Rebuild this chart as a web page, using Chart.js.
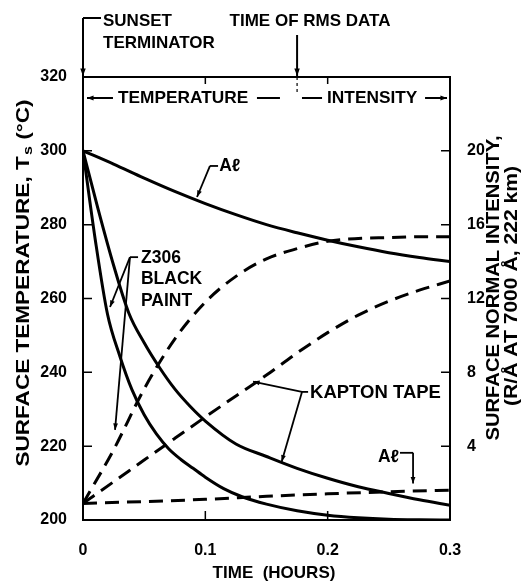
<!DOCTYPE html>
<html>
<head>
<meta charset="utf-8">
<script src="https://cdn.jsdelivr.net/npm/chart.js@4"></script>
<style>
  body { margin: 0; background: #fff; }
  #wrap { width: 525px; height: 585px; }
</style>
</head>
<body>
<div id="wrap"><canvas id="chart" width="525" height="585"></canvas></div>
<script>
// Temperature curves (hours, deg C)
const alTime = [0, 0.025, 0.05, 0.075, 0.1, 0.125, 0.15, 0.175, 0.2, 0.225, 0.25, 0.275, 0.3];
const alTemp = [300, 296.4, 292.6, 289, 285.7, 282.7, 280, 277.8, 275.8, 274, 272.4, 271.1, 270];

const z306Time = [0, 0.01, 0.02, 0.03, 0.04, 0.05, 0.06, 0.07, 0.08, 0.09, 0.1, 0.115, 0.13, 0.15, 0.175, 0.2, 0.225, 0.25, 0.275, 0.3];
const z306Temp = [300, 276, 255.8, 244.5, 235.3, 228.5, 223.3, 219.3, 216.4, 214, 211.6, 208.5, 206.3, 204.3, 202.5, 201.3, 200.6, 200.2, 200.05, 200];

const kaptonTime = [0, 0.0125, 0.025, 0.0375, 0.05, 0.0625, 0.075, 0.0875, 0.1, 0.125, 0.15, 0.175, 0.2, 0.225, 0.25, 0.275, 0.3];
const kaptonTemp = [300, 284, 269, 256, 248, 241.3, 235.5, 230.8, 226.8, 220.6, 217.2, 214, 211.3, 209, 207.2, 205.5, 204];

// Intensity curves (hours, R/A)
const intTime = [0, 0.025, 0.05, 0.075, 0.1, 0.125, 0.15, 0.175, 0.2, 0.225, 0.25, 0.275, 0.3];
const z306Int = [0.9, 3.8, 7.1, 9.8, 11.8, 13.2, 14.15, 14.7, 15.1, 15.25, 15.3, 15.35, 15.35];
const kaptonInt = [0.9, 2.07, 3.25, 4.42, 5.58, 6.72, 7.85, 9.05, 10.15, 11.1, 11.85, 12.45, 12.95];
const alIntTime = [0, 0.05, 0.1, 0.15, 0.2, 0.25, 0.3];
const alInt = [0.9, 1.0, 1.12, 1.28, 1.42, 1.53, 1.62];

// Axis ticks
const xTicks = [0, 0.1, 0.2, 0.3];
const tempTicks = [200, 220, 240, 260, 280, 300, 320];
const intTicks = [4, 8, 12, 16, 20];

const FONT = '"Liberation Sans", Arial, sans-serif';

function pts(xs, ys) { return xs.map((x, i) => ({ x: x, y: ys[i] })); }

function line(label, xs, ys, axis, dashed) {
    return {
        label: label, data: pts(xs, ys), yAxisID: axis,
        borderColor: '#000', borderWidth: 3, pointRadius: 0,
        borderDash: dashed ? [14, 8] : [], fill: false,
        cubicInterpolationMode: 'monotone'
    };
}

function arrow(ctx, x1, y1, x2, y2, size) {
    size = size || 7;
    ctx.beginPath();
    ctx.moveTo(x1, y1);
    ctx.lineTo(x2, y2);
    ctx.stroke();
    const a = Math.atan2(y2 - y1, x2 - x1);
    ctx.beginPath();
    ctx.moveTo(x2, y2);
    ctx.lineTo(x2 - size * Math.cos(a - 0.35), y2 - size * Math.sin(a - 0.35));
    ctx.lineTo(x2 - size * Math.cos(a + 0.35), y2 - size * Math.sin(a + 0.35));
    ctx.closePath();
    ctx.fill();
}

// text centred vertically on y
function label(ctx, text, x, y, size, align) {
    ctx.font = 'bold ' + size + 'px ' + FONT;
    ctx.textAlign = align || 'left';
    ctx.textBaseline = 'middle';
    ctx.fillText(text, x, y);
}

// vertical text, stretched along its length to span len pixels
function vlabel(ctx, text, x, y, size, len) {
    ctx.save();
    ctx.translate(x, y);
    ctx.rotate(-Math.PI / 2);
    ctx.font = 'bold ' + size + 'px ' + FONT;
    ctx.scale(len / ctx.measureText(text).width, 1);
    label(ctx, text, 0, 0, size, 'center');
    ctx.restore();
}

const decor = {
    id: 'decor',
    afterDraw(chart) {
        const ctx = chart.ctx;
        const a = chart.chartArea;
        const sx = chart.scales.x, sy = chart.scales.y, sy1 = chart.scales.y1;
        const px = v => sx.getPixelForValue(v);
        const py = v => sy.getPixelForValue(v);
        ctx.save();
        ctx.strokeStyle = '#000';
        ctx.fillStyle = '#000';

        // frame
        ctx.lineWidth = 2;
        ctx.strokeRect(a.left, a.top, a.right - a.left, a.bottom - a.top);

        // inward ticks
        ctx.lineWidth = 1.5;
        ctx.beginPath();
        tempTicks.slice(1, -1).forEach(v => { ctx.moveTo(a.left, py(v)); ctx.lineTo(a.left + 9, py(v)); });
        intTicks.forEach(v => { const y = sy1.getPixelForValue(v); ctx.moveTo(a.right, y); ctx.lineTo(a.right - 9, y); });
        xTicks.slice(1, -1).forEach(v => {
            ctx.moveTo(px(v), a.bottom); ctx.lineTo(px(v), a.bottom - 9);
            ctx.moveTo(px(v), a.top); ctx.lineTo(px(v), a.top + 7);
        });
        ctx.stroke();

        // x title
        label(ctx, 'TIME  (HOURS)', 274, 573, 17, 'center');

        // left title with subscript, stretched to its length in the original
        ctx.save();
        ctx.translate(24, 283);
        ctx.rotate(-Math.PI / 2);
        ctx.textBaseline = 'middle';
        ctx.textAlign = 'left';
        const p1 = 'SURFACE TEMPERATURE, T', p2 = 's', p3 = ' (\u00B0C)';
        ctx.font = 'bold 17.5px ' + FONT;
        const w1 = ctx.measureText(p1).width, w3 = ctx.measureText(p3).width;
        ctx.font = 'bold 12.5px ' + FONT;
        const w2 = ctx.measureText(p2).width;
        const total = w1 + w2 + w3 + 1;
        ctx.scale(367 / total, 1);
        const x0 = -total / 2;
        ctx.font = 'bold 17.5px ' + FONT;
        ctx.fillText(p1, x0, 0);
        ctx.font = 'bold 12.5px ' + FONT;
        ctx.fillText(p2, x0 + w1 + 1, 5);
        ctx.font = 'bold 17.5px ' + FONT;
        ctx.fillText(p3, x0 + w1 + w2 + 1, 0);
        ctx.restore();

        // right title
        vlabel(ctx, 'SURFACE NORMAL INTENSITY,', 494, 288, 17.5, 305);
        vlabel(ctx, '(R/\u00C5 AT 7000 \u00C5, 222 km)', 512, 286, 17.5, 240);

        // top annotations
        label(ctx, 'SUNSET', 103, 21, 17);
        label(ctx, 'TERMINATOR', 103, 43, 17);
        label(ctx, 'TIME OF RMS DATA', 310, 21, 17, 'center');
        ctx.lineWidth = 2;
        ctx.beginPath();
        ctx.moveTo(101, 18); ctx.lineTo(a.left, 18);
        ctx.stroke();
        arrow(ctx, a.left, 18, a.left, a.top - 1, 8);
        const rms = 0.175;
        arrow(ctx, px(rms), 35, px(rms), a.top - 1, 8);
        ctx.lineWidth = 1.2;
        ctx.setLineDash([3, 3]);
        ctx.beginPath();
        ctx.moveTo(px(rms), a.top); ctx.lineTo(px(rms), a.top + 16);
        ctx.stroke();
        ctx.setLineDash([]);

        // temperature / intensity banner
        const by = a.top + 21;
        ctx.lineWidth = 2;
        label(ctx, 'TEMPERATURE', px(0.0286), by, 17.3);
        arrow(ctx, px(0.0245), by, a.left + 4, by, 7);
        ctx.beginPath();
        ctx.moveTo(px(0.1422), by); ctx.lineTo(px(0.161), by);
        ctx.moveTo(px(0.179), by); ctx.lineTo(px(0.1954), by);
        ctx.stroke();
        label(ctx, 'INTENSITY', px(0.1995), by, 17.3);
        arrow(ctx, px(0.2796), by, a.right - 3, by, 7);

        // curve labels and leaders
        ctx.lineWidth = 1.8;
        // Al (temperature)
        label(ctx, 'A\u2113', px(0.1113), py(295.9), 17.5);
        ctx.beginPath(); ctx.moveTo(px(0.1104), py(295.9)); ctx.lineTo(px(0.1038), py(295.9)); ctx.stroke();
        arrow(ctx, px(0.1038), py(295.9), px(0.0932), py(287.5), 7);
        // Z306 black paint
        label(ctx, 'Z306', px(0.0474), py(270.8), 17.5);
        label(ctx, 'BLACK', px(0.0474), py(265.3), 17.5);
        label(ctx, 'PAINT', px(0.0474), py(259.3), 17.5);
        ctx.beginPath(); ctx.moveTo(px(0.045), py(271.2)); ctx.lineTo(px(0.0384), py(271.2)); ctx.stroke();
        arrow(ctx, px(0.0384), py(271.2), px(0.0221), py(257.7), 7);
        arrow(ctx, px(0.0384), py(271.2), px(0.0262), py(224.4), 7);
        // Kapton tape
        label(ctx, 'KAPTON TAPE', px(0.1856), py(234.4), 18.5);
        ctx.beginPath(); ctx.moveTo(px(0.184), py(234.7)); ctx.lineTo(px(0.179), py(234.7)); ctx.stroke();
        arrow(ctx, px(0.179), py(234.7), px(0.139), py(237.5), 7);
        arrow(ctx, px(0.179), py(234.7), px(0.1624), py(215.8), 7);
        // Al (intensity)
        label(ctx, 'A\u2113', px(0.2411), py(216.9), 17.5);
        ctx.beginPath(); ctx.moveTo(px(0.2591), py(218.2)); ctx.lineTo(px(0.2698), py(218.2)); ctx.stroke();
        arrow(ctx, px(0.2698), py(218.2), px(0.2698), py(209.9), 7);

        ctx.restore();
    }
};

const tickFont = { family: FONT, size: 16, weight: 'bold' };

new Chart(document.getElementById('chart').getContext('2d'), {
    type: 'line',
    data: {
        datasets: [
            line('Al', alTime, alTemp, 'y', false),
            line('Z306', z306Time, z306Temp, 'y', false),
            line('Kapton', kaptonTime, kaptonTemp, 'y', false),
            line('Z306 intensity', intTime, z306Int, 'y1', true),
            line('Kapton intensity', intTime, kaptonInt, 'y1', true),
            line('Al intensity', alIntTime, alInt, 'y1', true)
        ]
    },
    options: {
        responsive: false,
        animation: false,
        layout: { padding: { top: 77, left: 0, right: 0, bottom: 0 } },
        plugins: { legend: { display: false }, tooltip: { enabled: false } },
        scales: {
            x: {
                type: 'linear', min: 0, max: 0.3,
                afterBuildTicks: s => { s.ticks = xTicks.map(v => ({ value: v })); },
                afterFit: s => { s.height = 65; },
                grid: { display: false }, border: { display: false },
                ticks: { color: '#000', padding: 13, font: tickFont,
                         callback: v => v === 0 ? '0' : v.toFixed(1) }
            },
            y: {
                position: 'left', min: 200, max: 320,
                afterBuildTicks: s => { s.ticks = tempTicks.map(v => ({ value: v })); },
                afterFit: s => { s.width = 83; },
                grid: { display: false }, border: { display: false },
                ticks: { color: '#000', padding: 8, font: tickFont }
            },
            y1: {
                position: 'right', min: 0, max: 24,
                afterBuildTicks: s => { s.ticks = intTicks.map(v => ({ value: v })); },
                afterFit: s => { s.width = 75; },
                grid: { display: false }, border: { display: false },
                ticks: { color: '#000', padding: 9, font: tickFont }
            }
        }
    },
    plugins: [decor]
});
</script>
</body>
</html>
